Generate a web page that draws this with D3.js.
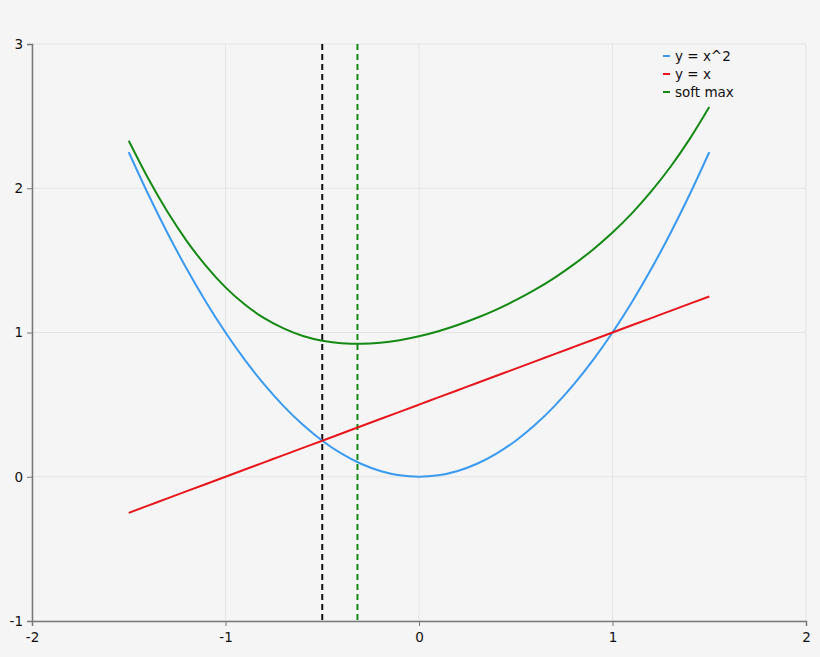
<!DOCTYPE html>
<html>
<head>
<meta charset="utf-8">
<script src="https://cdn.jsdelivr.net/npm/d3@7"></script>
<style>
  body { margin: 0; background: #f5f5f5; }
  svg { display: block; font-family: "DejaVu Sans", sans-serif; }
</style>
</head>
<body>
<div id="chart"></div>
<script>
// x positions sampled along the curves
const xs = [-1.5, -1.4, -1.3, -1.2, -1.1, -1.0, -0.9, -0.8, -0.7, -0.6, -0.5, -0.4, -0.3, -0.2, -0.1,
  0, 0.1, 0.2, 0.3, 0.4, 0.5, 0.6, 0.7, 0.8, 0.9, 1.0, 1.1, 1.2, 1.3, 1.4, 1.5];
// blue curve
const square = [2.25, 1.96, 1.69, 1.44, 1.21, 1.00, 0.81, 0.64, 0.49, 0.36, 0.25, 0.16, 0.09, 0.04, 0.01,
  0, 0.01, 0.04, 0.09, 0.16, 0.25, 0.36, 0.49, 0.64, 0.81, 1.00, 1.21, 1.44, 1.69, 1.96, 2.25];
// red line
const lin = [-0.25, -0.2, -0.15, -0.1, -0.05, 0, 0.05, 0.1, 0.15, 0.2, 0.25, 0.3, 0.35, 0.4, 0.45,
  0.5, 0.55, 0.6, 0.65, 0.7, 0.75, 0.8, 0.85, 0.9, 0.95, 1.0, 1.05, 1.1, 1.15, 1.2, 1.25];
// green curve
const softMax = [2.329, 2.069, 1.837, 1.634, 1.460, 1.313, 1.194, 1.099, 1.028, 0.976, 0.943, 0.926, 0.922, 0.929, 0.947,
  0.974, 1.009, 1.052, 1.102, 1.159, 1.224, 1.297, 1.379, 1.472, 1.576, 1.693, 1.826, 1.978, 2.149, 2.344, 2.563];
// dashed verticals
const vlines = [{x: -0.5, color: "#111111"}, {x: -0.318, color: "#148a14"}];

const xTicks = [-2, -1, 0, 1, 2];
const yTicks = [-1, 0, 1, 2, 3];

const series = [
  {name: "y = x^2", values: square, color: "#3a9af0"},
  {name: "y = x", values: lin, color: "#e8161c"},
  {name: "soft max", values: softMax, color: "#148a14"}
];

const width = 820, height = 657;
const padLeft = 32, padRight = 806, padTop = 44, padBottom = 621;

const x = d3.scaleLinear().domain([-2, 2]).range([padLeft, padRight]);
const y = d3.scaleLinear().domain([-1, 3]).range([padBottom, padTop]);

const svg = d3.select("#chart").append("svg")
  .attr("width", width)
  .attr("height", height);

svg.append("rect").attr("width", width).attr("height", height).attr("fill", "#f5f5f5");

// grid
svg.append("g").selectAll("line")
  .data(xTicks).enter().append("line")
  .attr("x1", d => x(d)).attr("x2", d => x(d))
  .attr("y1", padTop).attr("y2", padBottom)
  .attr("stroke", "#e4e4e4");
svg.append("g").selectAll("line")
  .data(yTicks).enter().append("line")
  .attr("x1", padLeft).attr("x2", padRight)
  .attr("y1", d => y(d)).attr("y2", d => y(d))
  .attr("stroke", "#e4e4e4");

// axes
const xAxis = d3.axisBottom(x).tickValues(xTicks).tickSize(5).tickFormat(d3.format("d"));
const yAxis = d3.axisLeft(y).tickValues(yTicks).tickSize(5).tickFormat(d3.format("d"));

const gx = svg.append("g")
  .attr("transform", "translate(0," + padBottom + ")")
  .call(xAxis);
const gy = svg.append("g")
  .attr("transform", "translate(" + padLeft + ",0)")
  .call(yAxis);
[gx, gy].forEach(g => {
  g.select(".domain").attr("stroke", "#777").attr("stroke-width", 1.5);
  g.selectAll(".tick line").attr("stroke", "#777");
  g.selectAll(".tick text").attr("fill", "#111").attr("font-size", 13.5)
    .attr("font-family", "DejaVu Sans, sans-serif");
});
gx.selectAll(".tick text").attr("dy", "0.71em").attr("y", 11).text(d => d < 0 ? "-" + Math.abs(d) : d);
gy.selectAll(".tick text").attr("x", -9).text(d => d < 0 ? "-" + Math.abs(d) : d);

// dashed vertical lines
svg.append("g").selectAll("line")
  .data(vlines).enter().append("line")
  .attr("x1", d => x(d.x)).attr("x2", d => x(d.x))
  .attr("y1", padTop).attr("y2", padBottom)
  .attr("stroke", d => d.color)
  .attr("stroke-width", 2)
  .attr("stroke-dasharray", "6,4");

// curves
const line = d3.line()
  .x((d, i) => x(xs[i]))
  .y(d => y(d))
  .curve(d3.curveMonotoneX);

svg.append("g").selectAll("path")
  .data(series).enter().append("path")
  .attr("d", d => line(d.values))
  .attr("fill", "none")
  .attr("stroke", d => d.color)
  .attr("stroke-width", 2);

// legend
const legend = svg.append("g").attr("transform", "translate(663,56)");
const items = legend.selectAll("g")
  .data(series).enter().append("g")
  .attr("transform", (d, i) => "translate(0," + i * 18 + ")");
items.append("line")
  .attr("x1", 0).attr("x2", 7)
  .attr("y1", 0).attr("y2", 0)
  .attr("stroke", d => d.color)
  .attr("stroke-width", 2);
items.append("text")
  .attr("x", 12)
  .attr("dy", "0.35em")
  .attr("font-size", 13.5)
  .attr("fill", "#111")
  .text(d => d.name);
</script>
</body>
</html>
